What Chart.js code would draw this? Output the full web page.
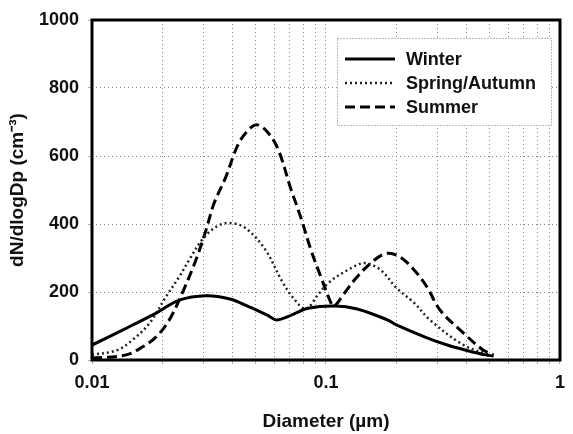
<!DOCTYPE html>
<html><head><meta charset="utf-8">
<script src="https://cdn.jsdelivr.net/npm/chart.js@4.4.0/dist/chart.umd.min.js"></script>
<style>html,body{margin:0;padding:0;background:#fff;overflow:hidden}#wrap{position:absolute;left:0;top:0;width:573px;height:434px}</style>
</head><body><div id="wrap"><canvas id="c" width="573" height="434"></canvas></div>
<script>
// ---- data (diameter in µm, concentration) ----
const seriesLabels = ['Winter', 'Spring/Autumn', 'Summer'];
const winterD = [0.01, 0.0135, 0.0188, 0.0236, 0.0307, 0.0385, 0.0467, 0.0568, 0.0614, 0.0711, 0.0837, 0.109, 0.136, 0.183, 0.2, 0.27, 0.33, 0.4, 0.48, 0.52];
const winterN = [44, 88, 138, 176, 189, 180, 157, 130, 118, 132, 152, 159, 150, 118, 103, 65, 44, 28, 15, 12];
const springD = [0.01, 0.0128, 0.0149, 0.0176, 0.0207, 0.0236, 0.026, 0.0295, 0.0338, 0.0385, 0.0453, 0.0551, 0.0645, 0.072, 0.082, 0.092, 0.102, 0.124, 0.146, 0.171, 0.2, 0.238, 0.278, 0.387, 0.5];
const springN = [15, 29, 59, 108, 186, 245, 294, 353, 391, 403, 388, 324, 235, 185, 150, 190, 226, 265, 285, 265, 212, 168, 118, 44, 15];
const summerD = [0.01, 0.014, 0.0164, 0.0188, 0.0214, 0.0243, 0.0278, 0.0307, 0.0332, 0.0373, 0.0424, 0.048, 0.0515, 0.0568, 0.0626, 0.071, 0.078, 0.0862, 0.095, 0.105, 0.108, 0.12, 0.136, 0.161, 0.183, 0.207, 0.238, 0.27, 0.307, 0.387, 0.47, 0.52];
const summerN = [5, 15, 38, 68, 118, 197, 294, 382, 460, 538, 638, 685, 691, 667, 618, 500, 420, 324, 245, 168, 157, 197, 245, 294, 314, 303, 265, 215, 147, 79, 29, 15];
const xTickValues = [0.01,0.02,0.03,0.04,0.05,0.06,0.07,0.08,0.09,0.1,0.2,0.3,0.4,0.5,0.6,0.7,0.8,0.9,1];
const xTickLabels = {'0.01':'0.01','0.1':'0.1','1':'1'};
const yTickStep = 200;

const pts = (d, n) => d.map((x, i) => ({x: x, y: n[i]}));
const FONT = "'Liberation Sans', Arial, sans-serif";

const frame = {
  id: 'frame',
  afterDraw(chart) {
    const {ctx, chartArea: a} = chart;
    ctx.save();
    ctx.strokeStyle = '#000'; ctx.lineWidth = 3; ctx.setLineDash([]);
    ctx.strokeRect(a.left, a.top, a.right - a.left, a.bottom - a.top);
    // legend box
    const bx = 337, by = 38, bw = 214, bh = 87;
    ctx.fillStyle = '#fff'; ctx.fillRect(bx, by, bw, bh);
    ctx.strokeStyle = '#777'; ctx.lineWidth = 1; ctx.setLineDash([1, 2]);
    ctx.strokeRect(bx + 0.5, by + 0.5, bw, bh);
    chart.data.datasets.forEach((ds, i) => {
      const y = 59 + i * 24;
      ctx.strokeStyle = ds.borderColor; ctx.lineWidth = ds.borderWidth;
      ctx.setLineDash(ds.borderDash || []);
      ctx.lineCap = ds.borderCapStyle || 'butt';
      ctx.beginPath(); ctx.moveTo(345, y); ctx.lineTo(395, y); ctx.stroke();
      ctx.setLineDash([]);
      ctx.fillStyle = '#111'; ctx.font = 'bold 18px ' + FONT;
      ctx.textBaseline = 'middle'; ctx.textAlign = 'left';
      ctx.fillText(ds.label, 406, y + 1);
    });
    ctx.restore();
  }
};

new Chart(document.getElementById('c'), {
  type: 'line',
  data: {
    datasets: [
      {label: seriesLabels[0], data: pts(winterD, winterN), borderColor: '#000', borderWidth: 3, borderDash: [], tension: 0.35, pointRadius: 0},
      {label: seriesLabels[1], data: pts(springD, springN), borderColor: '#222', borderWidth: 2.5, borderDash: [2, 3], tension: 0.35, pointRadius: 0},
      {label: seriesLabels[2], data: pts(summerD, summerN), borderColor: '#000', borderWidth: 3, borderDash: [10, 5], tension: 0.35, pointRadius: 0}
    ]
  },
  options: {
    responsive: false, animation: false, devicePixelRatio: 1,
    layout: {padding: {left: 0, right: 9, top: 20, bottom: 0}},
    plugins: {legend: {display: false}, tooltip: {enabled: false}},
    scales: {
      x: {
        type: 'logarithmic', min: 0.01, max: 1,
        afterBuildTicks: s => { s.ticks = xTickValues.map(v => ({value: v})); },
        afterFit: s => { s.height = 74; },
        ticks: {autoSkip: false, maxRotation: 0, padding: 8, color: '#111',
          font: {family: FONT, size: 18, weight: 'bold'},
          callback: v => xTickLabels[String(+v.toPrecision(6))] || ''},
        grid: {color: '#888', lineWidth: 1, tickLength: 4, tickColor: '#aaa'},
        border: {display: false, dash: [1, 3]},
        title: {display: true, text: 'Diameter (µm)', color: '#111',
          font: {family: FONT, size: 19, weight: 'bold'}, padding: {top: 0, bottom: 1}}
      },
      y: {
        type: 'linear', min: 0, max: 1000,
        afterFit: s => { s.width = 92; },
        ticks: {stepSize: yTickStep, padding: 9, color: '#111',
          font: {family: FONT, size: 18, weight: 'bold'},
          callback: v => String(v)},
        grid: {color: '#888', lineWidth: 1, tickLength: 4, tickColor: '#aaa'},
        border: {display: false, dash: [1, 3]},
        title: {display: true, text: 'dN/dlogDp (cm⁻³)', color: '#111',
          font: {family: FONT, size: 19, weight: 'bold'}, padding: {top: 6, bottom: 0}}
      }
    }
  },
  plugins: [frame]
});
</script></body></html>
